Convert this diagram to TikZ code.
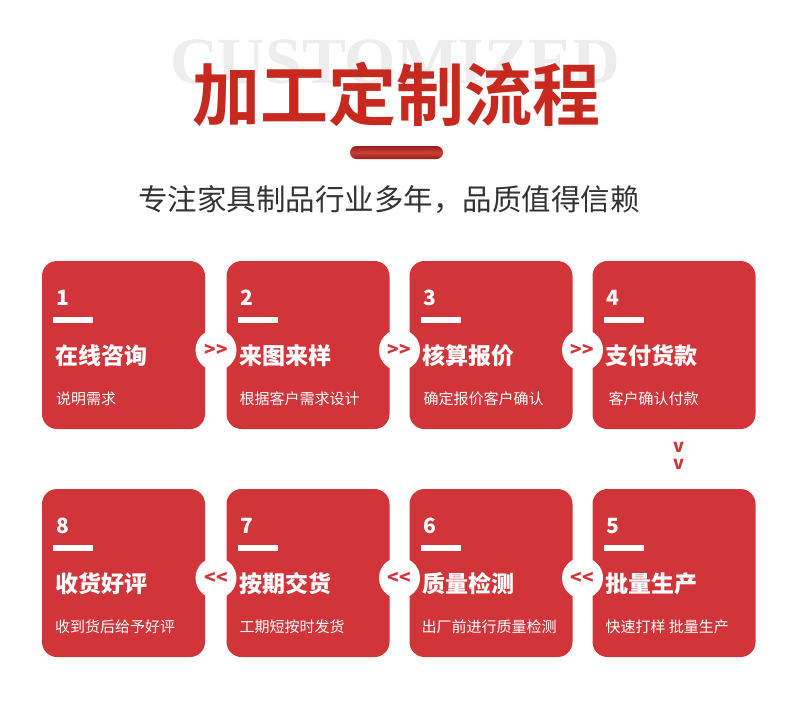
\documentclass[tikz,border=0pt]{standalone}
\usepackage{fontspec}
\setmainfont{Noto Sans CJK SC}
\newfontfamily\heavyfont{Noto Sans CJK SC Bold}
\newfontfamily\markfont{Liberation Serif}
\usetikzlibrary{positioning}
\definecolor{cardred}{HTML}{D1353A}
\definecolor{titlered}{HTML}{C8291F}
\definecolor{barred}{HTML}{B8251D}
\definecolor{markgray}{HTML}{EDEDED}
\definecolor{subgray}{HTML}{333333}
\begin{document}
\begin{tikzpicture}[
            x=1pt, y=-1pt,
            card/.style={
                rectangle,
                rounded corners=15pt,
                fill=cardred,
                minimum width=163pt,
                minimum height=168pt,
                inner sep=0pt
            },
            num/.style={anchor=west, inner sep=0pt, text=white,
                font=\bfseries\fontsize{21}{21}\selectfont},
            numbar/.style={anchor=west, fill=white, inner sep=0pt,
                minimum width=40pt, minimum height=6pt},
            cardtitle/.style={anchor=west, inner sep=0pt, text=white,
                font=\bfseries\fontsize{23}{23}\selectfont},
            cardtext/.style={anchor=west, inner sep=0pt, text=white,
                font=\fontsize{15}{15}\selectfont},
            passdot/.style={circle, fill=white, minimum size=41pt, inner sep=0pt,
                text=cardred, font=\bfseries\fontsize{19}{19}\selectfont},
            vmark/.style={inner sep=0pt, text=cardred,
                font=\bfseries\fontsize{18}{18}\selectfont}
        ]
        \useasboundingbox[fill=white] (0,0) rectangle (800,713);

        % Cabecera
        \node[text=markgray, font=\markfont\bfseries\fontsize{66}{66}\selectfont] (mark) at (395,62) {CUSTOMIZED};
        \node[text=titlered, font=\heavyfont\fontsize{68}{68}\selectfont] (title) at (396,94) {加工定制流程};
        \node[rectangle, rounded corners=6.5pt, minimum width=93pt, minimum height=13pt, inner sep=0pt,
              top color=barred!80!black, bottom color=barred!80!black, middle color=titlered!90!white] (bar) at (396.5,152.5) {};
        \node[text=subgray, font=\fontsize{29.5}{29.5}\selectfont] (sub) at (389,200) {专注家具制品行业多年，品质值得信赖};

        % Tarjetas
        \node[card] (box1) at (123.5,345) {};
        \node[card] (box2) at (308,345) {};
        \node[card] (box3) at (491,345) {};
        \node[card] (box4) at (674,345) {};
        \node[card] (box8) at (123.5,573) {};
        \node[card] (box7) at (308,573) {};
        \node[card] (box6) at (491,573) {};
        \node[card] (box5) at (674,573) {};

        % Paso 1
        \node[num]       (n1) at ([shift={(14,37)}]box1.north west) {1};
        \node[numbar]    (b1) at ([shift={(11,59)}]box1.north west) {};
        \node[cardtitle] (t1) at ([shift={(13,95)}]box1.north west) {在线咨询};
        \node[cardtext]  (s1) at ([shift={(14,138)}]box1.north west) {说明需求};
        % Paso 2
        \node[num]       (n2) at ([shift={(14,37)}]box2.north west) {2};
        \node[numbar]    (b2) at ([shift={(11,59)}]box2.north west) {};
        \node[cardtitle] (t2) at ([shift={(13,95)}]box2.north west) {来图来样};
        \node[cardtext]  (s2) at ([shift={(13,138)}]box2.north west) {根据客户需求设计};
        % Paso 3
        \node[num]       (n3) at ([shift={(14,37)}]box3.north west) {3};
        \node[numbar]    (b3) at ([shift={(11,59)}]box3.north west) {};
        \node[cardtitle] (t3) at ([shift={(13,95)}]box3.north west) {核算报价};
        \node[cardtext]  (s3) at ([shift={(14,138)}]box3.north west) {确定报价客户确认};
        % Paso 4
        \node[num]       (n4) at ([shift={(14,37)}]box4.north west) {4};
        \node[numbar]    (b4) at ([shift={(11,59)}]box4.north west) {};
        \node[cardtitle] (t4) at ([shift={(13,95)}]box4.north west) {支付货款};
        \node[cardtext]  (s4) at ([shift={(16,138)}]box4.north west) {客户确认付款};
        % Paso 5
        \node[num]       (n5) at ([shift={(14,37)}]box5.north west) {5};
        \node[numbar]    (b5) at ([shift={(11,59)}]box5.north west) {};
        \node[cardtitle] (t5) at ([shift={(13,95)}]box5.north west) {批量生产};
        \node[cardtext]  (s5) at ([shift={(13,138)}]box5.north west) {快速打样 批量生产};
        % Paso 6
        \node[num]       (n6) at ([shift={(14,37)}]box6.north west) {6};
        \node[numbar]    (b6) at ([shift={(11,59)}]box6.north west) {};
        \node[cardtitle] (t6) at ([shift={(13,95)}]box6.north west) {质量检测};
        \node[cardtext]  (s6) at ([shift={(12,138)}]box6.north west) {出厂前进行质量检测};
        % Paso 7
        \node[num]       (n7) at ([shift={(14,37)}]box7.north west) {7};
        \node[numbar]    (b7) at ([shift={(11,59)}]box7.north west) {};
        \node[cardtitle] (t7) at ([shift={(13,95)}]box7.north west) {按期交货};
        \node[cardtext]  (s7) at ([shift={(13,138)}]box7.north west) {工期短按时发货};
        % Paso 8
        \node[num]       (n8) at ([shift={(14,37)}]box8.north west) {8};
        \node[numbar]    (b8) at ([shift={(11,59)}]box8.north west) {};
        \node[cardtitle] (t8) at ([shift={(13,95)}]box8.north west) {收货好评};
        \node[cardtext]  (s8) at ([shift={(13,138)}]box8.north west) {收到货后给予好评};

        % Enlaces
        \node[passdot] (p12) at (216,350) {>{}>};
        \node[passdot] (p23) at (399.5,350) {>{}>};
        \node[passdot] (p34) at (582.5,350) {>{}>};
        \node[passdot] (p65) at (582.5,578) {<{}<};
        \node[passdot] (p76) at (399.5,578) {<{}<};
        \node[passdot] (p87) at (216,578) {<{}<};
        \node[vmark] (v1) at (679,447) {v};
        \node[vmark] (v2) at (679,464) {v};

        \end{tikzpicture}
\end{document}
